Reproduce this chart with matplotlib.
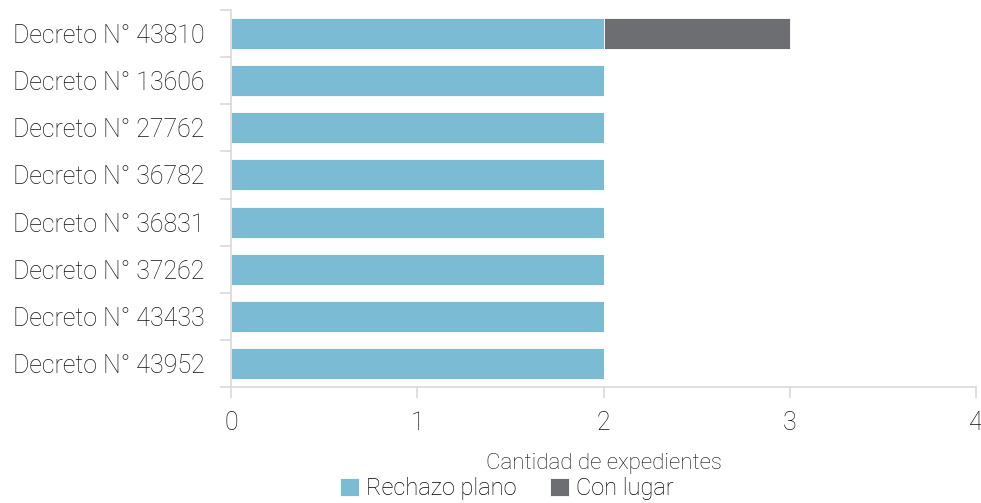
import matplotlib
matplotlib.use("Agg")
import matplotlib.pyplot as plt
import numpy as np

categories = ["Decreto N° 43810", "Decreto N° 13606", "Decreto N° 27762", "Decreto N° 36782",
              "Decreto N° 36831", "Decreto N° 37262", "Decreto N° 43433", "Decreto N° 43952"]
rechazo_plano = [2, 2, 2, 2, 2, 2, 2, 2]
con_lugar = [1, 0, 0, 0, 0, 0, 0, 0]
xticks = [0, 1, 2, 3, 4]
series_names = ["Rechazo plano", "Con lugar"]

plt.rcParams['font.family'] = ['Roboto', 'DejaVu Sans']
plt.rcParams['font.weight'] = 'light'

fig = plt.figure(figsize=(9.81, 5.03), dpi=100)
ax = fig.add_axes([231/981, 1-387/503, (976-231)/981, (387-10)/503])

txt = "#111111"
blue = "#7bbbd4"
gray = "#6d6e72"
y = np.arange(len(categories))
ax.barh(y, rechazo_plano, height=0.66, color=blue, edgecolor="white", linewidth=0.6, label=series_names[0])
ax.barh(y, con_lugar, left=rechazo_plano, height=0.66, color=gray, edgecolor="white", linewidth=0.6, label=series_names[1])

ax.set_ylim(len(categories)-0.5, -0.5)
ax.set_xlim(0, 4)
ax.set_yticks(y)
ax.set_yticklabels(categories, fontsize=18, fontweight='light', color=txt)
ax.set_yticks(np.arange(-0.5, len(categories)), minor=True)
ax.tick_params(axis='y', which='major', length=0, pad=19)
ax.tick_params(axis='y', which='minor', length=8, color="#d9d9d9", width=1.2)
ax.set_xticks(xticks)
ax.set_xticklabels([str(t) for t in xticks], fontsize=18, fontweight='light', color=txt)
ax.tick_params(axis='x', length=8, color="#d9d9d9", width=1.2, pad=9)

for s in ["top", "right"]:
    ax.spines[s].set_visible(False)
for s in ["left", "bottom"]:
    ax.spines[s].set_color("#d9d9d9")
    ax.spines[s].set_linewidth(1.2)

ax.set_xlabel("Cantidad de expedientes", fontsize=16, fontweight='light', color=txt, labelpad=13)

fig.legend(loc="center", bbox_to_anchor=(507/981, 1-489/503), ncol=2, frameon=False,
           handlelength=0.8, handleheight=0.8, handletextpad=0.3, columnspacing=1.4,
           prop={'weight': 'light', 'size': 17})

fig.savefig("out.png", dpi=100)
